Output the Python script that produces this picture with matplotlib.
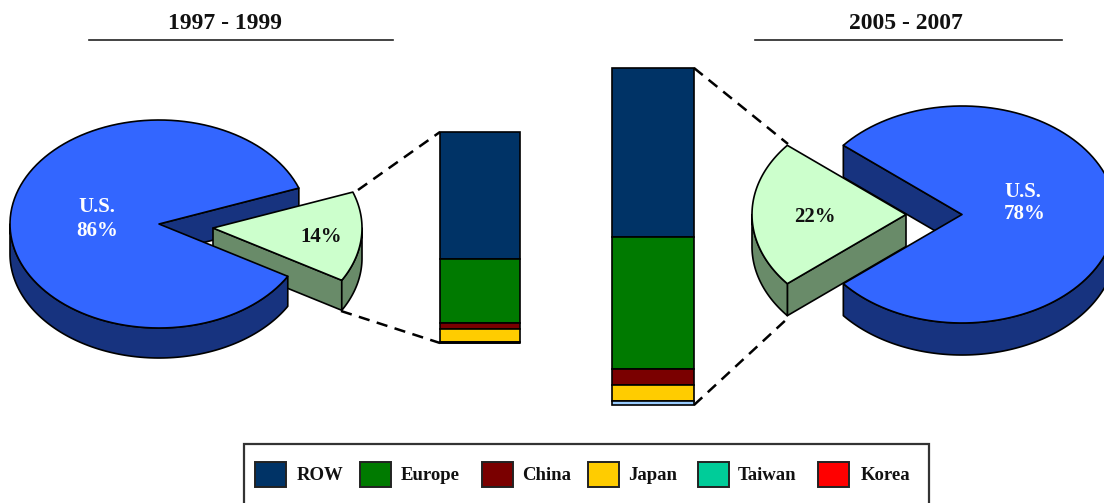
import numpy as np
import matplotlib
matplotlib.use("Agg")
import matplotlib.pyplot as plt
from matplotlib.patches import Polygon, Rectangle

W, H = 1104, 503

periods = ["1997 - 1999", "2005 - 2007"]
us_share = [86, 78]
foreign_share = [14, 22]

# breakdown of the foreign share, in percentage points
segments = ["ROW", "Europe", "China", "Japan", "Taiwan", "Korea"]
foreign_early = [8.4, 4.3, 0.4, 0.85, 0.03, 0.02]
foreign_late = [11.03, 8.6, 1.05, 1.05, 0.1, 0.17]

seg_colors = ["#003366", "#007A00", "#7A0000", "#FFCC00", "#00CC99", "#FF0000"]
late_tail_color = "#99CCFF"

BLUE = "#3366FF"
BLUE_DARK = "#17337F"
GREEN = "#CCFFCC"
GREEN_DARK = "#698B69"
SERIF = "Liberation Serif"


def arc(cx, cy, rx, ry, a0, a1, n=120):
    t = np.radians(np.linspace(a0, a1, n))
    return np.column_stack([cx + rx * np.cos(t), cy - ry * np.sin(t)])


def solid(ax, pts, color, z):
    ax.add_patch(Polygon(pts, closed=True, facecolor=color, edgecolor="black",
                         linewidth=1.2, joinstyle="round", zorder=z))


def rim(ax, cx, cy, rx, ry, depth, a0, a1, color, z):
    top = arc(cx, cy, rx, ry, a0, a1)
    low = top[::-1] + [0, depth]
    solid(ax, np.vstack([top, low]), color, z)


def edge_wall(ax, cx, cy, rx, ry, depth, ang, color, z):
    corner = arc(cx, cy, rx, ry, ang, ang, 1)[0]
    pts = [(cx, cy), corner, corner + [0, depth], (cx, cy + depth)]
    solid(ax, pts, color, z)


def wedge_top(ax, cx, cy, rx, ry, a0, a1, color, z):
    solid(ax, np.vstack([[(cx, cy)], arc(cx, cy, rx, ry, a0, a1)]), color, z)


def pie_3d(ax, share, slice_share, geom, gap_start, shift):
    # the pulled out slice runs gap_start -> gap_end, the pie takes the rest
    cx, cy, rx, ry, depth = geom
    gap_end = gap_start + slice_share * 3.6
    pie_a0, pie_a1 = gap_end, gap_end + share * 3.6
    opens_right = gap_start < 0

    # inner wall of the pie seen through the gap
    edge_wall(ax, cx, cy, rx, ry, depth, gap_end if opens_right else gap_start, BLUE_DARK, 1)

    sx, sy = cx + shift[0], cy + shift[1]
    edge_wall(ax, sx, sy, rx, ry, depth, gap_start if opens_right else gap_end, GREEN_DARK, 2)
    if opens_right:
        rim(ax, sx, sy, rx, ry, depth, gap_start, 0, GREEN_DARK, 2)
    else:
        rim(ax, sx, sy, rx, ry, depth, 180, gap_end, GREEN_DARK, 2)
    wedge_top(ax, sx, sy, rx, ry, gap_start, gap_end, GREEN, 3)

    if opens_right:
        rim(ax, cx, cy, rx, ry, depth, 180, 360 + gap_start, BLUE_DARK, 4)
    else:
        rim(ax, cx, cy, rx, ry, depth, pie_a0, 360, BLUE_DARK, 4)
    wedge_top(ax, cx, cy, rx, ry, pie_a0, pie_a1, BLUE, 5)


def stacked_bar(x0, x1, y0, y1, values, colors):
    bar_ax = fig.add_axes([x0 / W, 1 - y1 / H, (x1 - x0) / W, (y1 - y0) / H])
    bar_ax.set_xlim(0, 1)
    bar_ax.set_ylim(sum(values), 0)
    bar_ax.axis("off")
    top = 0
    for v, c in zip(values, colors):
        bar_ax.bar(0.5, v, 1, bottom=top, color=c, edgecolor="black",
                   linewidth=1.2, clip_on=False)
        top += v


fig = plt.figure(figsize=(W / 100, H / 100), dpi=100, facecolor="white")
ax = fig.add_axes([0, 0, 1, 1])
ax.set_xlim(0, W)
ax.set_ylim(H, 0)
ax.axis("off")

# left pie, gap opens to the right
pie_3d(ax, us_share[0], foreign_share[0], (159, 224, 149, 104, 30), -30.2, (54, 4))
# right pie, gap opens to the left
pie_3d(ax, us_share[1], foreign_share[1], (962, 214.5, 154, 108.5, 32), 140.4, (-56, 0))

stacked_bar(440, 520, 132, 343, foreign_early, seg_colors)
stacked_bar(612, 694, 68, 405,
            foreign_late[:4] + [sum(foreign_late[4:])],
            seg_colors[:4] + [late_tail_color])

# dashed leader lines from the slices to the bars
for xs, ys in [((358, 440), (190, 132)), ((341, 440), (311, 343)),
               ((694, 788), (68, 144)), ((694, 788), (405, 318))]:
    ax.plot(xs, ys, color="black", lw=1.8, dashes=(4.5, 3), zorder=6)

# period headings
for label, xc, x0, x1 in [(periods[0], 225, 89, 393), (periods[1], 906, 755, 1062)]:
    ax.text(xc, 23, label, ha="center", va="center", family=SERIF,
            fontweight="bold", fontsize=17, color="#111111")
    ax.plot([x0, x1], [40, 40], color="#222222", lw=1.2)

txt = dict(ha="center", va="center", family=SERIF, fontweight="bold", fontsize=15, zorder=7)
ax.text(97, 207, "U.S.", color="white", **txt)
ax.text(97, 231, f"{us_share[0]}%", color="white", **txt)
ax.text(321, 237, f"{foreign_share[0]}%", color="#111111", **txt)
ax.text(815, 217, f"{foreign_share[1]}%", color="#111111", **txt)
ax.text(1023, 192, "U.S.", color="white", **txt)
ax.text(1025, 214, f"{us_share[1]}%", color="white", **txt)

# legend box runs off the bottom of the figure
ax.add_patch(Rectangle((244, 444), 685, 70, facecolor="white", edgecolor="#333333", lw=1.6))
swatch_x = [255, 360, 482, 588, 698, 818]
label_x = [297, 401, 522, 628, 738, 861]
for name, color, sx, lx in zip(segments, seg_colors, swatch_x, label_x):
    ax.add_patch(Rectangle((sx, 462), 31, 25, facecolor=color, edgecolor="#222222", lw=1.4))
    ax.text(lx, 475, name, ha="left", va="center", family=SERIF,
            fontweight="bold", fontsize=13.5, color="#111111")

fig.savefig("out.png", dpi=100)
